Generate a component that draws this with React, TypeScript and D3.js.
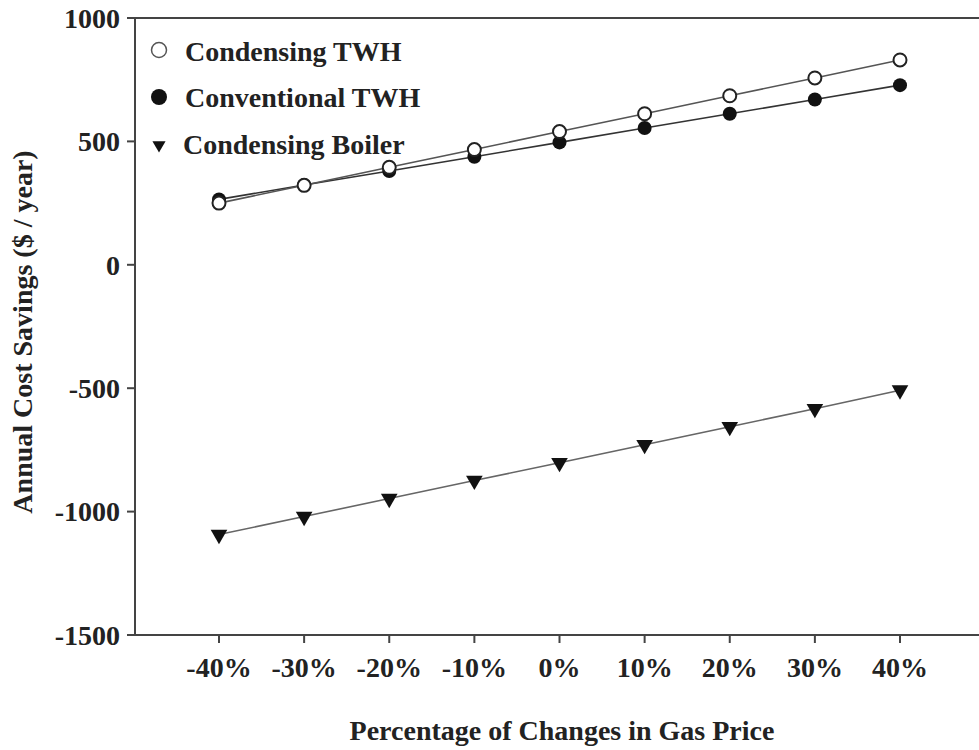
import React from "react";
import * as d3 from "d3";

const priceChanges = ["-40%", "-30%", "-20%", "-10%", "0%", "10%", "20%", "30%", "40%"];
const condensingTWH = [250, 322, 395, 467, 540, 612, 685, 757, 830];
const conventionalTWH = [265, 323, 380, 438, 496, 554, 612, 670, 728];
const condensingBoiler = [-1093, -1020, -947, -874, -802, -729, -656, -583, -508];
const yTicks = [1000, 500, 0, -500, -1000, -1500];

const W = 979;
const H = 750;
const left = 135;
const top = 18;
const bottom = 635;
const FONT = "'Liberation Serif', 'Times New Roman', serif";
const FS = 28;

export default function App() {
  const x = d3.scalePoint<string>().domain(priceChanges).range([219, 900]);
  const y = d3.scaleLinear().domain([-1500, 1000]).range([bottom, top]);
  const line = d3
    .line<number>()
    .x((_, i) => x(priceChanges[i]) as number)
    .y((d) => y(d));
  const tri = d3.symbol().type(d3.symbolTriangle).size(120)() as string;

  return (
    <svg width={W} height={H} style={{ position: "absolute", left: 0, top: 0, background: "#fff" }} fontFamily={FONT}>
      {/* axes */}
      <line x1={127} x2={W} y1={top} y2={top} stroke="#444" strokeWidth={2} />
      <line x1={left} x2={left} y1={top} y2={bottom} stroke="#444" strokeWidth={2} />
      <line x1={127} x2={W} y1={bottom} y2={bottom} stroke="#444" strokeWidth={2} />
      {yTicks.map((t) => (
        <g key={t}>
          <line x1={127} x2={left} y1={y(t)} y2={y(t)} stroke="#444" strokeWidth={2} />
          <text x={120} y={y(t)} dy="0.35em" textAnchor="end" fontSize={FS} fontWeight="bold" fill="#222">
            {t}
          </text>
        </g>
      ))}
      {priceChanges.map((p) => (
        <g key={p}>
          <line x1={x(p)} x2={x(p)} y1={bottom} y2={bottom + 8} stroke="#444" strokeWidth={2} />
          <text x={x(p)} y={677} textAnchor="middle" fontSize={FS} fontWeight="bold" fill="#222">
            {p}
          </text>
        </g>
      ))}
      <text x={562} y={740} textAnchor="middle" fontSize={FS} fontWeight="bold" fill="#222">
        Percentage of Changes in Gas Price
      </text>
      <text
        transform="translate(32,332) rotate(-90)"
        textAnchor="middle"
        fontSize={FS}
        fontWeight="bold"
        fill="#222"
      >
        Annual Cost Savings ($ / year)
      </text>

      {/* series lines */}
      <path d={line(condensingBoiler) as string} fill="none" stroke="#666" strokeWidth={1.6} />
      <path d={line(conventionalTWH) as string} fill="none" stroke="#333" strokeWidth={1.6} />
      <path d={line(condensingTWH) as string} fill="none" stroke="#555" strokeWidth={1.6} />

      {/* markers */}
      {condensingBoiler.map((v, i) => (
        <path key={"b" + i} d={tri} transform={`translate(${x(priceChanges[i])},${y(v)}) rotate(180)`} fill="#111" />
      ))}
      {conventionalTWH.map((v, i) => (
        <circle key={"c" + i} cx={x(priceChanges[i])} cy={y(v)} r={7} fill="#111" />
      ))}
      {condensingTWH.map((v, i) => (
        <circle key={"o" + i} cx={x(priceChanges[i])} cy={y(v)} r={6.5} fill="#fff" stroke="#222" strokeWidth={2} />
      ))}

      {/* legend */}
      <circle cx={159} cy={50} r={7.5} fill="#fff" stroke="#555" strokeWidth={1.5} />
      <text x={185} y={61} fontSize={FS} fontWeight="bold" fill="#222">Condensing TWH</text>
      <circle cx={159} cy={97} r={8} fill="#111" />
      <text x={185} y={107} fontSize={FS} fontWeight="bold" fill="#222">Conventional TWH</text>
      <path d={d3.symbol().type(d3.symbolTriangle).size(75)() as string} transform="translate(159,145) rotate(180)" fill="#111" />
      <text x={183} y={154} fontSize={FS} fontWeight="bold" fill="#222">Condensing Boiler</text>
    </svg>
  );
}
